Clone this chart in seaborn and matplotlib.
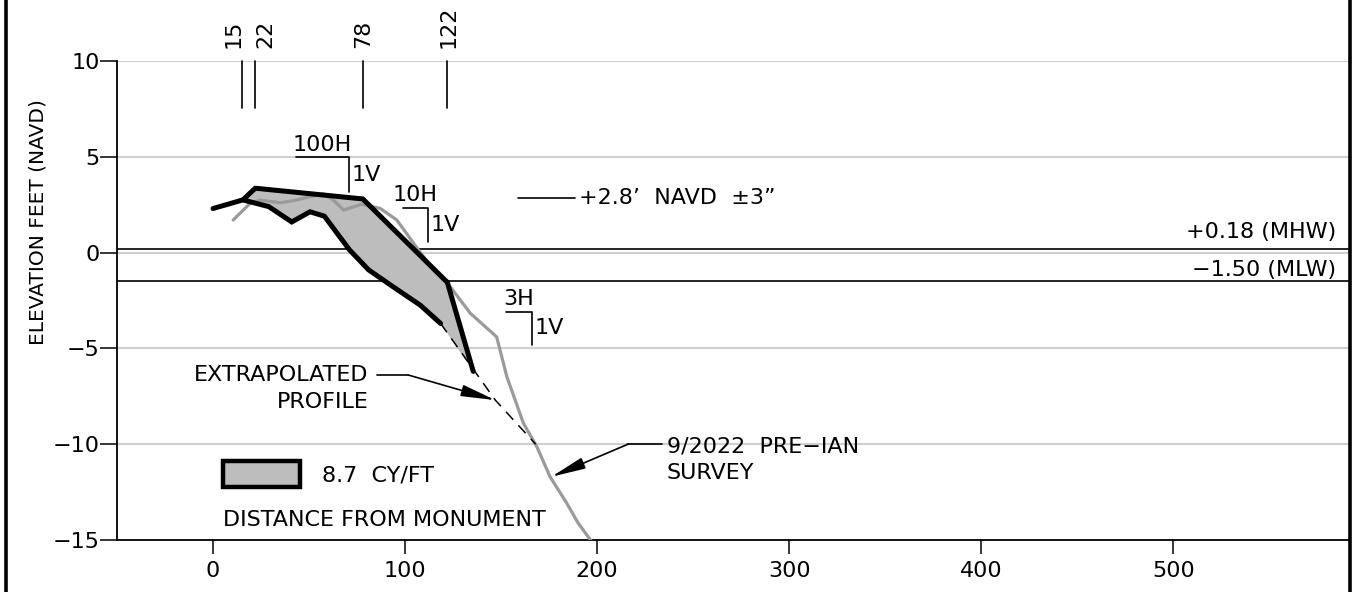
import matplotlib
matplotlib.use("Agg")
import matplotlib.pyplot as plt
from matplotlib.patches import Patch
from matplotlib.lines import Line2D
import seaborn as sns

# ---------------- data ----------------
existing_x = [0, 15.5, 29, 41, 50.5, 58, 71, 81, 94, 108, 118.5]
existing_y = [2.3, 2.75, 2.4, 1.6, 2.13, 1.9, 0.15, -0.9, -1.8, -2.75, -3.7]

template_x = [15.5, 22, 78, 122, 135.5]
template_y = [2.75, 3.36, 2.8, -1.55, -6.2]

extrap_x = [118.5, 147, 168]
extrap_y = [-3.7, -7.7, -10.0]

pre_x = [10.5, 19.3, 24.5, 35, 42, 50.5, 57.5, 62.7, 68, 77.4, 87, 95.7, 104.4,
         114.8, 123.5, 134, 147.7, 153, 161.6, 168.6, 175.5, 184.2, 190, 198]
pre_y = [1.7, 2.57, 2.74, 2.6, 2.71, 2.92, 3.06, 2.74, 2.22, 2.52, 2.31, 1.7, 0.49,
         -0.91, -1.78, -3.17, -4.4, -6.48, -8.9, -10.13, -11.7, -13.08, -14.1, -15.2]

stations = [15, 22, 78, 122]
station_labels = ["15", "22", "78", "122"]

tide_levels = [0.18, -1.50]
tide_labels = ["+0.18 (MHW)", "\u22121.50 (MLW)"]

x_ticks = [0, 100, 200, 300, 400, 500]
y_ticks = [-15, -10, -5, 0, 5, 10]

volume_label = "8.7  CY/FT"

# ---------------- style ----------------
sns.set_theme(style="white")
plt.rcParams["font.family"] = ["DejaVu Sans"]
plt.rcParams["text.color"] = "black"
plt.rcParams["axes.labelcolor"] = "black"
plt.rcParams["xtick.color"] = "black"
plt.rcParams["ytick.color"] = "black"
FS = 16
FILL = "#bdbdbd"
GREY = "#9a9a9a"

fig = plt.figure(figsize=(13.53, 5.92), dpi=100)
ax = fig.add_axes([117 / 1353, 52 / 592, (1349 - 117) / 1353, 479 / 592])

ax.set_xlim(-50, 591.5)
ax.set_ylim(-15, 10)
ax.set_xticks(x_ticks)
ax.set_yticks(y_ticks)
ax.tick_params(axis="x", direction="out", length=10, width=1.1, pad=5,
               labelsize=FS, colors="black", bottom=True)
ax.tick_params(axis="y", direction="out", length=12, width=1.1, pad=0.5,
               labelsize=FS, colors="black", left=True)
for s in ["top", "right"]:
    ax.spines[s].set_visible(False)
for s in ["left", "bottom"]:
    ax.spines[s].set_color("black")
    ax.spines[s].set_linewidth(1.3)
ax.grid(False)
for yv in y_ticks[1:]:
    ax.axhline(yv, color="#cfcfcf", lw=1.5, zorder=0.5)

# tide lines
for lv, lab, base in zip(tide_levels, tide_labels, [0.75, -1.22]):
    ax.axhline(lv, color="black", lw=1.2, zorder=1)
    ax.text(585, base, lab, ha="right", va="baseline", fontsize=FS)

# fill between template and existing profile
fill_x = template_x + existing_x[::-1][:-1]
fill_y = template_y + existing_y[::-1][:-1]
ax.fill(fill_x, fill_y, color=FILL, zorder=2, lw=0)

# pre-Ian survey
sns.lineplot(x=pre_x, y=pre_y, sort=False, estimator=None, color=GREY, lw=2.3,
             ax=ax, zorder=3)
# extrapolated
sns.lineplot(x=extrap_x, y=extrap_y, sort=False, estimator=None, color="black",
             lw=1.1, linestyle=(0, (7, 5)), ax=ax, zorder=4)
# existing and template profiles
sns.lineplot(x=existing_x, y=existing_y, sort=False, estimator=None, color="black",
             lw=3.6, ax=ax, zorder=5)
sns.lineplot(x=template_x, y=template_y, sort=False, estimator=None, color="black",
             lw=3.6, ax=ax, zorder=5)
for ln in ax.lines:
    ln.set_solid_joinstyle("miter")
    ln.set_clip_on(True)

# station markers at top
label_x = [10.6, 27.4, 78, 122.9]
for st, lx, lab in zip(stations, label_x, station_labels):
    ax.plot([st, st], [7.55, 10], color="black", lw=1.2, zorder=4, clip_on=False)
    ax.text(lx, 10.7, lab, rotation=90, ha="center", va="bottom", fontsize=FS,
            clip_on=False)

# slope indicators
slopes = [
    ("100H", "1V", (43.2, 71.0), 4.97, 3.18),
    ("10H", "1V", (98.8, 112.1), 2.34, 0.57),
    ("3H", "1V", (152.6, 166.3), -3.08, -4.82),
]
for h, v, (x0, x1), ytop, ybot in slopes:
    ax.plot([x0, x1, x1], [ytop, ytop, ybot], color="black", lw=1.2, zorder=4)
    ax.text((x0 + x1) / 2 - 0.5, ytop + 0.12, h, ha="center", va="bottom", fontsize=FS)
    ax.text(x1 + 1.0, (ytop + ybot) / 2, v, ha="left", va="center", fontsize=FS)

# +2.8' NAVD
ax.plot([159, 188.5], [2.83, 2.83], color="black", lw=1.2)
ax.text(190.5, 2.83, "+2.8\u2019  NAVD  \u00b13\u201d", ha="left", va="center",
        fontsize=FS)

# extrapolated profile annotation
ax.text(80.9, -6.39, "EXTRAPOLATED", ha="right", va="center", fontsize=FS)
ax.text(80.9, -7.8, "PROFILE", ha="right", va="center", fontsize=FS)
ax.plot([85.3, 101.7], [-6.39, -6.39], color="black", lw=1.2)
ax.annotate("", xy=(147, -7.7), xytext=(101.7, -6.39),
            arrowprops=dict(arrowstyle="-|>,head_length=2.1,head_width=0.35",
                            color="black", lw=1.2, shrinkA=0, shrinkB=0,
                            mutation_scale=10))

# pre-Ian annotation
ax.text(236.3, -10.13, "9/2022  PRE\u2212IAN", ha="left", va="center", fontsize=FS)
ax.text(236.3, -11.52, "SURVEY", ha="left", va="center", fontsize=FS)
ax.plot([216.3, 233.7], [-9.99, -9.99], color="black", lw=1.2)
ax.annotate("", xy=(176.2, -11.7), xytext=(216.3, -9.99),
            arrowprops=dict(arrowstyle="-|>,head_length=2.1,head_width=0.35",
                            color="black", lw=1.2, shrinkA=0, shrinkB=0,
                            mutation_scale=10))

# volume legend
handle = Patch(facecolor=FILL, edgecolor="black", linewidth=3.2)
ax.legend([handle], [volume_label], loc="upper left",
          bbox_to_anchor=(0.086, 0.165), frameon=False, fontsize=FS,
          handlelength=3.45, handleheight=1.4, handletextpad=1.0,
          borderpad=0, borderaxespad=0)

# x-axis label inside plot
ax.text(5.2, -13.95, "DISTANCE FROM MONUMENT", ha="left", va="center", fontsize=FS)

# y label
fig.text(38 / 1353, 1 - 222 / 592, "ELEVATION FEET (NAVD)", rotation=90,
         ha="center", va="center", fontsize=14.5)

# drawing frame
for xf in [6 / 1353, 1350 / 1353]:
    fig.add_artist(Line2D([xf, xf], [0, 1], transform=fig.transFigure,
                          color="black", lw=2.6))

fig.savefig("out.png", dpi=100)
